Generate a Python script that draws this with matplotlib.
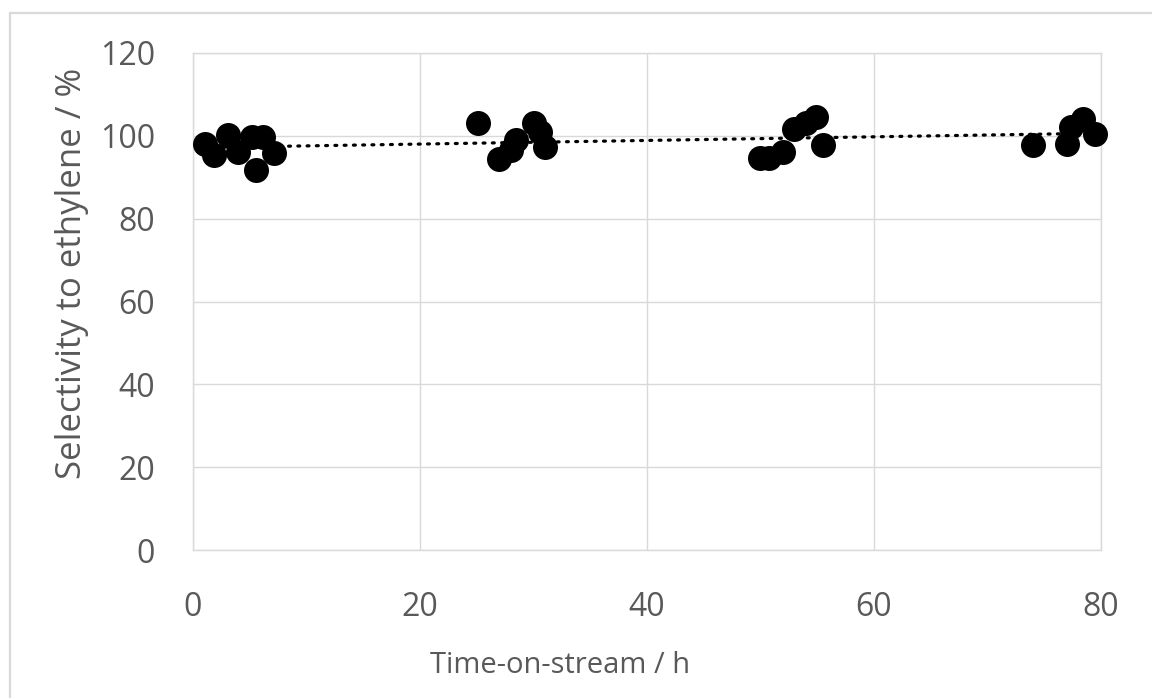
import matplotlib.pyplot as plt
import numpy as np
from matplotlib.patches import Rectangle

# Data
# - Time-on-stream (h) and selectivity (%)
time_h = [1.1, 1.9, 3.1, 4.0, 5.2, 5.6, 6.2, 7.2,
          25.1, 27.0, 28.0, 28.5, 30.1, 30.6, 31.0,
          50.0, 50.8, 52.0, 53.0, 54.0, 54.9, 55.5,
          74.0, 77.0, 77.4, 78.4, 79.5]
selectivity = [98.1, 95.3, 100.1, 96.1, 99.7, 91.7, 99.7, 95.7,
               103.0, 94.3, 96.5, 98.9, 103.0, 100.9, 97.3,
               94.5, 94.5, 96.1, 101.7, 103.0, 104.5, 97.7,
               97.7, 98.1, 102.1, 104.1, 100.5]
x_ticks = [0, 20, 40, 60, 80]
y_ticks = [0, 20, 40, 60, 80, 100, 120]

grey_text = "#595959"
grey_line = "#d9d9d9"
plt.rcParams["font.family"] = ["Open Sans", "DejaVu Sans"]

fig = plt.figure(figsize=(11.52, 6.98), dpi=100)

# Outer chart frame (runs off the right and bottom edges)
fig.patches.append(
    Rectangle((10 / 1152, -0.1), 1.2, (698 - 13) / 698 + 0.1,
              transform=fig.transFigure, fill=False,
              edgecolor=grey_line, linewidth=1.6)
)

ax = fig.add_axes([0.1673, 0.2116, 0.7882, 0.7129])

# Linear trendline
t = np.array(time_h)
coef = np.polyfit(t, selectivity, 1)
t_fit = np.array([t.min(), t.max()])
ax.plot(t_fit, np.polyval(coef, t_fit), color="black", linewidth=2.3,
        dashes=[0.6, 2.3], dash_capstyle="round", zorder=2)

ax.plot(time_h, selectivity, "o", color="black", markersize=18,
        markeredgewidth=0, zorder=3, clip_on=False)

ax.set_xlim(0, 80)
ax.set_ylim(0, 120)
ax.set_xticks(x_ticks)
ax.set_yticks(y_ticks)
ax.grid(True, color=grey_line, linewidth=1.0)
ax.set_axisbelow(True)
for s in ax.spines.values():
    s.set_color(grey_line)
    s.set_linewidth(1.0)
ax.tick_params(length=0, labelsize=23, colors=grey_text)
ax.tick_params(axis="y", pad=27)
ax.tick_params(axis="x", pad=29)

ax.set_xlabel("Time-on-stream / h", fontsize=21, color=grey_text)
ax.xaxis.set_label_coords(0.4045, -0.2305)
ax.xaxis.label.set_va("center")
ax.set_ylabel("Selectivity to ethylene / %", fontsize=25, color=grey_text)
ax.yaxis.set_label_coords(-0.1329, 0.557)
ax.yaxis.label.set_va("center")

plt.savefig("out.png", dpi=100)
plt.close()
